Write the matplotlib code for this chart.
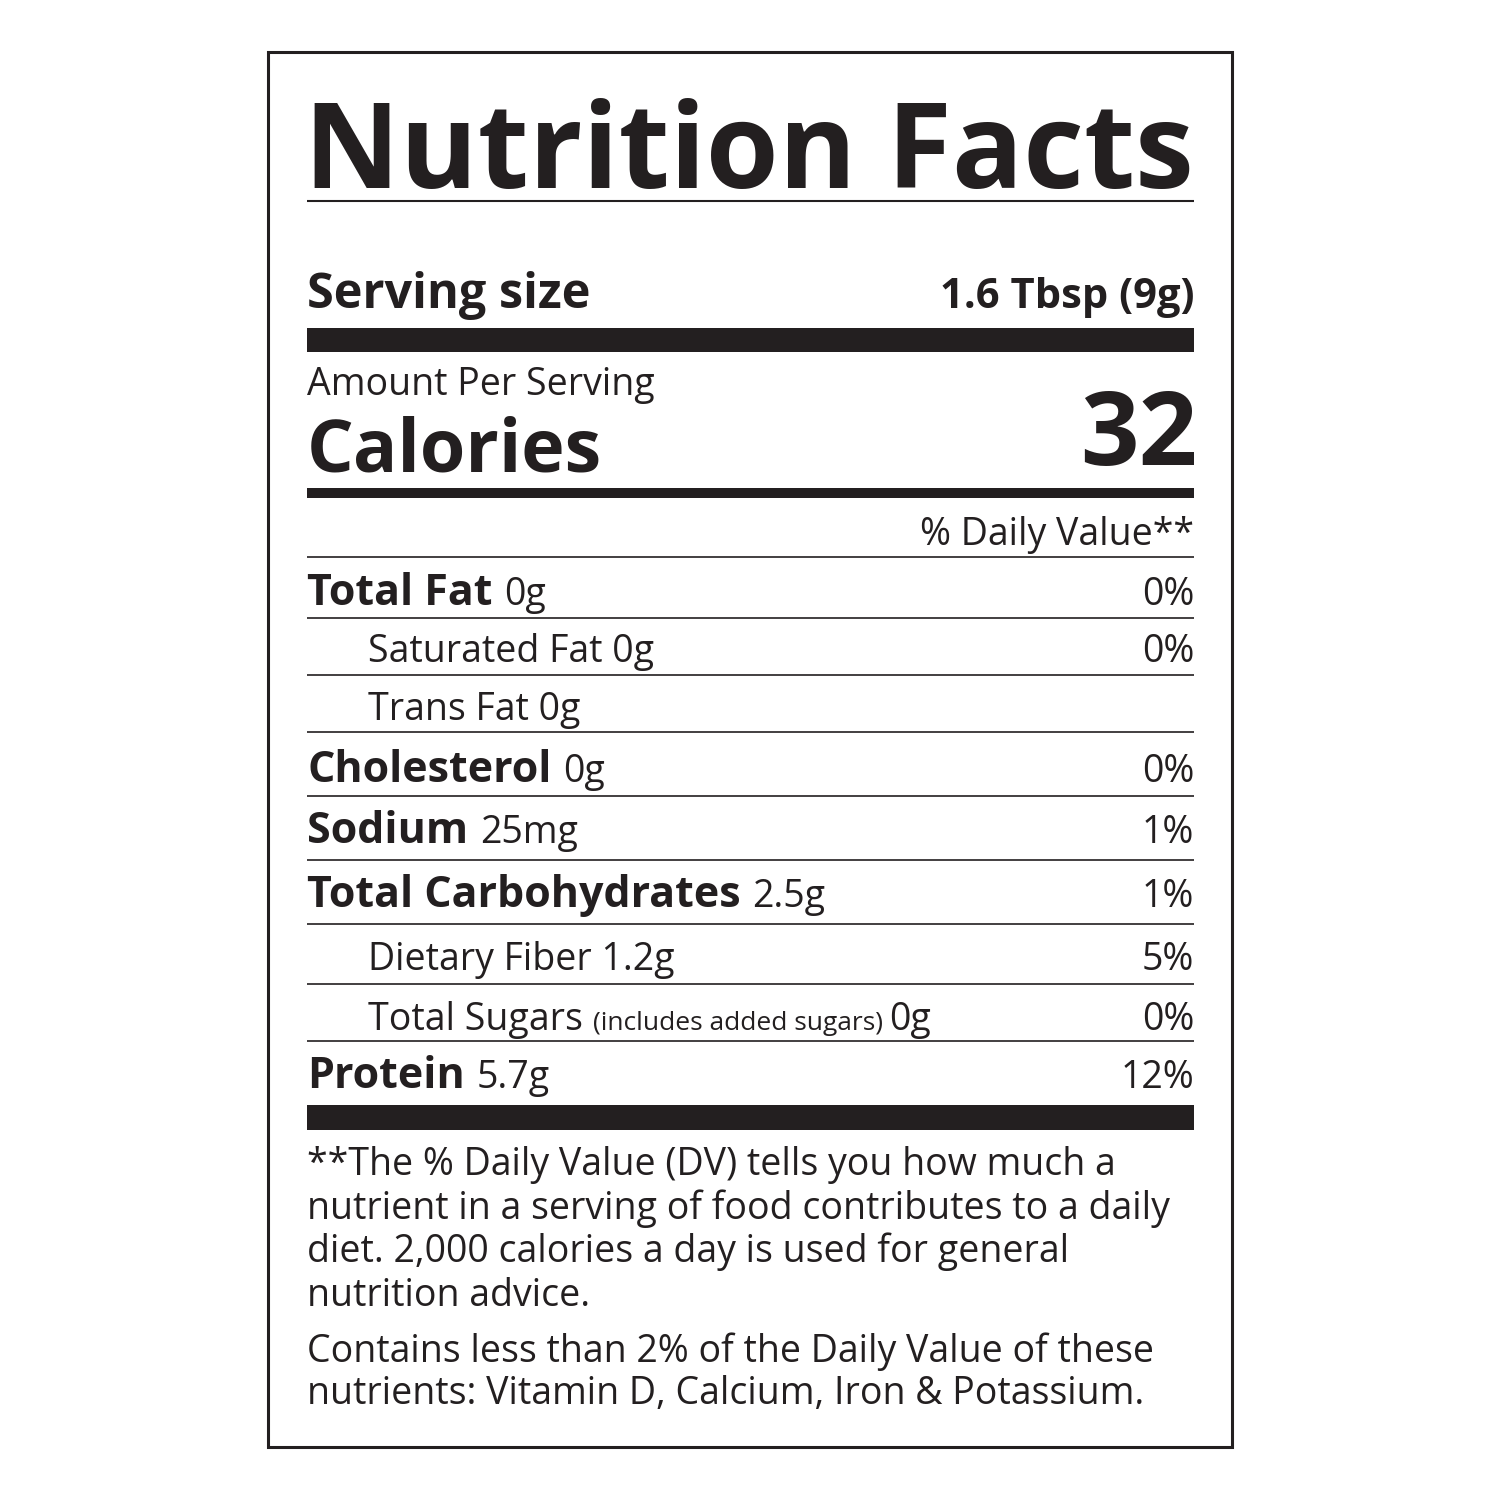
import matplotlib
matplotlib.use("Agg")
import matplotlib.pyplot as plt

title = "Nutrition Facts"
serving_label = "Serving size"
serving_value = "1.6 Tbsp (9g)"
calories = 32
nutrients = ["Total Fat", "Saturated Fat", "Trans Fat", "Cholesterol", "Sodium",
             "Total Carbohydrates", "Dietary Fiber", "Total Sugars", "Protein"]
amounts = ["0g", "0g", "0g", "0g", "25mg", "2.5g", "1.2g", "0g", "5.7g"]
daily_pct = ["0%", "0%", "", "0%", "1%", "1%", "5%", "0%", "12%"]
is_sub = [False, True, True, False, False, False, True, True, False]
footnote1 = ["**The % Daily Value (DV) tells you how much a",
             "nutrient in a serving of food contributes to a daily",
             "diet. 2,000 calories a day is used for general",
             "nutrition advice."]
footnote2 = ["Contains less than 2% of the Daily Value of these",
             "nutrients: Vitamin D, Calcium, Iron & Potassium."]

FONT = "Open Sans"
C = "#231f20"
fig = plt.figure(figsize=(15, 15), dpi=100)
ax = fig.add_axes([0, 0, 1, 1])
ax.set_xlim(0, 1500); ax.set_ylim(1500, 0); ax.axis("off")
L, R = 307, 1194

ax.add_patch(plt.Rectangle((268, 52), 964, 1395, fill=False, lw=2.2, ec=C))
def hline(y, lw, x0=L):
    ax.plot([x0, R], [y, y], color=C, lw=lw, solid_capstyle="butt")
def rect(y0, y1):
    ax.add_patch(plt.Rectangle((L, y0), R - L, y1 - y0, color=C, lw=0))

t = ax.text(L - 3, 188, title, fontsize=96, fontweight="bold", family=FONT, color=C, va="baseline")
fig.canvas.draw()
r = fig.canvas.get_renderer()
w = t.get_window_extent(r).width
t.set_fontsize(96 * (R - L + 3) / w)
hline(201, 1.5)
ax.text(L, 308, serving_label, fontsize=35, fontweight="bold", family=FONT, color=C, va="baseline")
ax.text(R, 308, serving_value, fontsize=30, fontweight="bold", family=FONT, color=C, va="baseline", ha="right")
rect(328, 352)
ax.text(L, 395, "Amount Per Serving", fontsize=27, family=FONT, color=C, va="baseline")
ax.text(L, 472, "Calories", fontsize=53, fontweight="bold", family=FONT, color=C, va="baseline")
ax.text(R + 3, 465, str(calories), fontsize=74, fontweight="bold", family=FONT, color=C, va="baseline", ha="right")
rect(488, 498)
ax.text(R, 545, "% Daily Value**", fontsize=27, family=FONT, color=C, va="baseline", ha="right")

lines_y = [557, 618, 675, 732, 796, 860, 924, 984, 1041]
base_y = [605, 662, 720, 782, 843, 907, 970, 1030, 1088]
for ly in lines_y:
    hline(ly, 1.2)
inv = ax.transData.inverted()
for name, amt, pct, sub, by in zip(nutrients, amounts, daily_pct, is_sub, base_y):
    if sub:
        x = 368
        if name == "Total Sugars":
            t1 = ax.text(x, by, name + " ", fontsize=27, family=FONT, color=C, va="baseline")
            fig.canvas.draw()
            x2 = inv.transform((t1.get_window_extent(r).x1, 0))[0]
            t2 = ax.text(x2, by, "(includes added sugars) ", fontsize=19, family=FONT, color=C, va="baseline")
            fig.canvas.draw()
            x3 = inv.transform((t2.get_window_extent(r).x1, 0))[0]
            ax.text(x3, by, amt, fontsize=27, family=FONT, color=C, va="baseline")
        else:
            ax.text(x, by, name + " " + amt, fontsize=27, family=FONT, color=C, va="baseline")
    else:
        t1 = ax.text(L, by, name, fontsize=31, fontweight="bold", family=FONT, color=C, va="baseline")
        fig.canvas.draw()
        x2 = inv.transform((t1.get_window_extent(r).x1, 0))[0] + 12
        ax.text(x2, by, amt, fontsize=27, family=FONT, color=C, va="baseline")
    if pct:
        ax.text(R, by, pct, fontsize=27, family=FONT, color=C, va="baseline", ha="right")
rect(1105, 1130)
for i, s in enumerate(footnote1):
    ax.text(L, 1175 + i * 43.5, s, fontsize=27, family=FONT, color=C, va="baseline")
for i, s in enumerate(footnote2):
    ax.text(L, 1362 + i * 42, s, fontsize=27, family=FONT, color=C, va="baseline")
fig.savefig("out.png", dpi=100, facecolor="white")
